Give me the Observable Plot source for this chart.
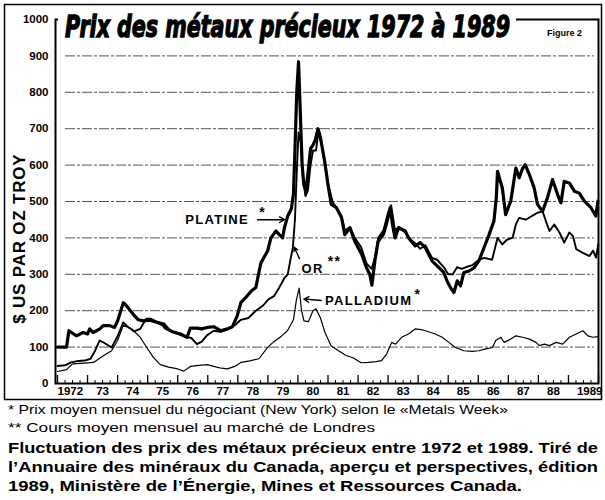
<!DOCTYPE html>
<html><head><meta charset="utf-8">
<script src="https://cdn.jsdelivr.net/npm/d3@7"></script>
<script src="https://cdn.jsdelivr.net/npm/@observablehq/plot@0.6"></script>
<style>
body{margin:0;background:#fff;}
#wrap{position:relative;width:605px;height:500px;overflow:hidden;font-family:"Liberation Sans",Arial,sans-serif;background:#fff;}
#wrap svg{display:block;}
.ov{position:absolute;left:0;top:0;}
</style></head><body><div id="wrap"></div>
<script>
// ---- data (decimal year, US$ per troy oz) ----
const platine = [[1972.00,100],[1972.30,100],[1972.38,145],[1972.50,138],[1972.63,131],[1972.85,140],[1973.00,136],[1973.07,150],[1973.18,140],[1973.30,145],[1973.41,150],[1973.52,159],[1973.74,159],[1973.90,154],[1974.00,172],[1974.19,222],[1974.30,213],[1974.52,190],[1974.69,175],[1974.86,172],[1975.08,174],[1975.30,168],[1975.52,161],[1975.58,153],[1975.80,143],[1976.09,136],[1976.31,127],[1976.42,152],[1976.64,152],[1976.80,150],[1976.98,154],[1977.20,156],[1977.43,145],[1977.65,150],[1977.82,156],[1977.98,186],[1978.10,222],[1978.25,235],[1978.45,254],[1978.60,264],[1978.71,309],[1978.77,332],[1978.99,364],[1979.10,400],[1979.27,419],[1979.38,409],[1979.49,400],[1979.55,428],[1979.66,460],[1979.78,480],[1979.85,520],[1979.90,640],[1979.96,800],[1980.02,884],[1980.08,740],[1980.14,600],[1980.20,545],[1980.27,530],[1980.35,590],[1980.42,645],[1980.50,655],[1980.58,670],[1980.67,700],[1980.75,675],[1980.89,610],[1981.00,546],[1981.11,492],[1981.28,483],[1981.45,456],[1981.56,409],[1981.73,428],[1981.89,391],[1982.12,355],[1982.28,318],[1982.39,300],[1982.46,270],[1982.56,337],[1982.67,391],[1982.84,409],[1982.95,440],[1983.07,483],[1983.14,440],[1983.23,400],[1983.35,428],[1983.57,419],[1983.68,400],[1983.90,378],[1984.07,387],[1984.24,373],[1984.46,337],[1984.63,323],[1984.85,305],[1984.96,282],[1985.07,264],[1985.19,250],[1985.30,282],[1985.41,268],[1985.52,305],[1985.69,309],[1985.86,318],[1986.02,337],[1986.19,373],[1986.36,409],[1986.52,446],[1986.60,510],[1986.64,583],[1986.72,560],[1986.80,537],[1986.91,464],[1987.08,501],[1987.25,592],[1987.36,565],[1987.47,590],[1987.56,601],[1987.70,574],[1987.86,537],[1987.97,492],[1988.14,473],[1988.30,510],[1988.47,560],[1988.64,519],[1988.75,496],[1988.86,555],[1989.03,551],[1989.20,528],[1989.36,523],[1989.53,501],[1989.75,483],[1989.91,460],[1989.98,501]];

const or = [[1972.00,48],[1972.25,50],[1972.45,58],[1972.70,62],[1972.90,63],[1973.10,68],[1973.25,90],[1973.40,118],[1973.55,112],[1973.80,99],[1974.00,130],[1974.19,168],[1974.35,155],[1974.55,143],[1974.75,150],[1974.95,178],[1975.10,178],[1975.30,170],[1975.55,165],[1975.75,145],[1975.95,138],[1976.20,130],[1976.45,125],[1976.64,108],[1976.80,115],[1976.98,133],[1977.20,145],[1977.43,142],[1977.65,148],[1977.90,160],[1978.10,175],[1978.35,180],[1978.60,200],[1978.85,215],[1979.00,230],[1979.20,240],[1979.38,264],[1979.55,290],[1979.66,300],[1979.75,340],[1979.83,373],[1979.90,450],[1979.97,600],[1980.02,690],[1980.10,660],[1980.17,560],[1980.25,515],[1980.33,530],[1980.42,600],[1980.50,640],[1980.60,640],[1980.68,690],[1980.78,660],[1980.90,600],[1981.00,550],[1981.15,500],[1981.30,480],[1981.45,460],[1981.56,420],[1981.73,430],[1981.89,400],[1982.10,375],[1982.28,330],[1982.45,315],[1982.56,345],[1982.67,400],[1982.84,420],[1983.00,470],[1983.10,490],[1983.23,420],[1983.35,430],[1983.57,415],[1983.75,395],[1983.90,385],[1984.07,370],[1984.24,380],[1984.46,345],[1984.63,340],[1984.85,320],[1985.00,300],[1985.15,300],[1985.30,320],[1985.45,315],[1985.60,320],[1985.80,325],[1986.02,340],[1986.20,345],[1986.46,340],[1986.64,400],[1986.80,382],[1986.95,395],[1987.14,400],[1987.25,437],[1987.36,455],[1987.58,450],[1987.78,460],[1987.97,469],[1988.14,473],[1988.25,446],[1988.37,419],[1988.53,437],[1988.70,415],[1988.86,387],[1989.03,415],[1989.15,405],[1989.26,369],[1989.48,359],[1989.70,350],[1989.82,365],[1989.92,346],[1989.99,382]];

const palladium = [[1972.00,33],[1972.30,38],[1972.50,54],[1972.90,56],[1973.20,58],[1973.50,75],[1973.80,90],[1974.00,118],[1974.19,160],[1974.47,150],[1974.75,127],[1974.97,99],[1975.19,72],[1975.42,52],[1975.70,45],[1976.00,40],[1976.20,34],[1976.42,47],[1976.70,50],[1976.98,52],[1977.20,47],[1977.45,42],[1977.65,40],[1977.90,47],[1978.10,58],[1978.40,62],[1978.70,68],[1979.00,100],[1979.20,115],[1979.45,130],[1979.65,145],[1979.85,175],[1979.95,230],[1980.04,262],[1980.12,200],[1980.20,172],[1980.35,170],[1980.50,200],[1980.60,205],[1980.75,180],[1980.90,140],[1981.10,104],[1981.35,90],[1981.60,77],[1981.85,70],[1982.10,57],[1982.35,58],[1982.60,60],[1982.78,63],[1982.95,81],[1983.12,113],[1983.25,108],[1983.45,127],[1983.68,136],[1983.90,150],[1984.10,148],[1984.24,145],[1984.57,136],[1984.80,127],[1985.02,113],[1985.24,99],[1985.52,90],[1985.80,88],[1986.02,90],[1986.25,95],[1986.47,99],[1986.58,118],[1986.75,127],[1986.86,113],[1987.08,122],[1987.25,131],[1987.48,127],[1987.70,122],[1987.92,113],[1988.03,104],[1988.20,108],[1988.37,104],[1988.59,113],[1988.81,108],[1989.03,127],[1989.26,136],[1989.48,145],[1989.65,131],[1989.81,127],[1989.99,129]];

const years = d3.range(1972, 1990);
const yearLabels = ["1972","73","74","75","76","77","78","79","80","81","82","83","84","85","86","87","88","1989"];
const yearTicks = d3.range(1972, 1991);
const quarterTicks = d3.range(1972, 1990, 0.25).filter(q => q % 1 !== 0);
const yTicks = d3.range(0, 1001, 100);
const gridValues = d3.range(100, 1000, 100);
const yTitle = "$ US PAR OZ TROY";
const title = "Prix des métaux précieux 1972 à 1989";
const figureLabel = "Figure 2";
const notesEnd = [{t: 1978.37, v: 450, text: "PLATINE"}];
const notesStart = [
  {t: 1980.12, v: 316, text: "OR"},
  {t: 1980.90, v: 226, text: "PALLADIUM"}
];
const stars = [
  {t: 1978.80, v: 470, text: "*"},
  {t: 1981.22, v: 334, text: "**"},
  {t: 1983.97, v: 244, text: "*"}
];
const arrows = [
  {t1: 1978.66, v1: 450, t2: 1979.55, v2: 450},
  {t1: 1980.05, v1: 343, t2: 1979.88, v2: 374},
  {t1: 1980.77, v1: 228, t2: 1980.20, v2: 232}
];
const footnotes = [
  "* Prix moyen mensuel du négociant (New York) selon le «Metals Week»",
  "** Cours moyen mensuel au marché de Londres"
];
const caption = [
  "Fluctuation des prix des métaux précieux entre 1972 et 1989. Tiré de",
  "l’Annuaire des minéraux du Canada, aperçu et perspectives, édition",
  "1989, Ministère de l’Énergie, Mines et Ressources Canada."
];

const X = d => d[0], Y = d => d[1];
const font = "'Liberation Sans', Arial, Helvetica, sans-serif";
const lab = (d, i) => yearLabels[i];

const chart = Plot.plot({
  width: 605, height: 400,
  marginLeft: 57, marginRight: 7, marginTop: 19, marginBottom: 17,
  x: {domain: [1972, 1990], axis: null},
  y: {domain: [0, 1000], axis: null},
  style: {fontFamily: font, background: "transparent", overflow: "visible", color: "#000"},
  marks: [
    Plot.ruleY(gridValues, {stroke: "#555", strokeWidth: 1, strokeDasharray: "10,2,3,2", insetLeft: 8, insetRight: 4}),
    Plot.ruleX(quarterTicks, {y1: 0, y2: 8, stroke: "#000", strokeWidth: 1}),
    Plot.ruleX(yearTicks, {y1: 0, y2: 22, stroke: "#000", strokeWidth: 1.3}),
    Plot.line(palladium, {x: X, y: Y, stroke: "#000", strokeWidth: 1.2, strokeLinejoin: "round"}),
    Plot.line(or, {x: X, y: Y, stroke: "#000", strokeWidth: 1.9, strokeLinejoin: "round"}),
    Plot.line(platine, {x: X, y: Y, stroke: "#000", strokeWidth: 3.2, strokeLinejoin: "round"}),
    Plot.frame({stroke: "#000", strokeWidth: 2, insetLeft: -2}),
    Plot.axisY({ticks: yTicks, tickSize: 0, tickPadding: 9, tickFormat: d => String(d), fontSize: 11.5, fontWeight: "bold", label: null}),
    // year labels centred in each year; first/last pinned to the frame edges
    Plot.text(years.slice(1, -1), {x: d => d + 0.5, frameAnchor: "bottom", dy: 11, text: (d, i) => yearLabels[i + 1], fontSize: 11.5, fontWeight: "bold"}),
    Plot.text(years.slice(0, 1), {x: d => d, frameAnchor: "bottom", dy: 11, text: lab, textAnchor: "start", fontSize: 11.5, fontWeight: "bold"}),
    Plot.text(years.slice(-1), {x: d => d + 1, frameAnchor: "bottom", dy: 11, dx: 4, text: () => yearLabels[yearLabels.length - 1], textAnchor: "end", fontSize: 11.5, fontWeight: "bold"}),
    Plot.text([yTitle], {x: [1972], y: [398], dx: -38, rotate: -90, fontSize: 17, fontWeight: "bold"}),
    Plot.text(notesEnd, {x: "t", y: "v", text: "text", textAnchor: "end", fontSize: 13, fontWeight: "bold"}),
    Plot.text(notesStart, {x: "t", y: "v", text: "text", textAnchor: "start", fontSize: 13, fontWeight: "bold"}),
    Plot.text(stars, {x: "t", y: "v", text: "text", fontSize: 14, fontWeight: "bold"}),
    Plot.arrow(arrows, {x1: "t1", y1: "v1", x2: "t2", y2: "v2", stroke: "#000", strokeWidth: 1.4, headLength: 6})
  ]
});

// letter spacing of the annotation labels and axis title (not a Plot option)
const spaced = new Set(["PLATINE", "OR", "PALLADIUM", "**"]);
d3.select(chart).selectAll("text").each(function() {
  const s = this.textContent;
  if (spaced.has(s)) this.style.letterSpacing = "1.3px";
  if (s === yTitle) this.style.letterSpacing = "0.8px";
});

const wrap = document.getElementById("wrap");
wrap.appendChild(chart);

// overlays: border, title, figure label
const ov = d3.select(wrap).append("svg").attr("class", "ov").attr("width", 605).attr("height", 500);
ov.append("rect").attr("x", 4.5).attr("y", 4.5).attr("width", 597).attr("height", 395).attr("fill", "none").attr("stroke", "#000").attr("stroke-width", 1.5);
ov.append("rect").attr("x", 58).attr("y", 10).attr("width", 458).attr("height", 32).attr("fill", "#fff");
ov.append("g").attr("transform", "translate(65,37) scale(1,1.41)")
  .append("text").attr("x", 0).attr("y", 0).attr("textLength", 445).attr("lengthAdjust", "spacingAndGlyphs")
  .attr("font-family", "'Liberation Sans Narrow', 'DejaVu Sans Condensed', sans-serif").attr("font-size", 22)
  .attr("font-weight", "bold").attr("font-style", "italic").attr("stroke", "#000").attr("stroke-width", 0.9).text(title);
ov.append("text").attr("x", 547).attr("y", 36).attr("textLength", 35).attr("lengthAdjust", "spacingAndGlyphs")
  .attr("font-family", font).attr("font-size", 9).attr("font-weight", "bold").text(figureLabel);

// footnotes & caption below the chart
const fn = d3.select(wrap).append("svg").attr("width", 605).attr("height", 100);
const fnY = [14, 32], fnLen = [500, 367];
footnotes.forEach((s, i) => fn.append("text").attr("x", 8).attr("y", fnY[i]).attr("textLength", fnLen[i]).attr("lengthAdjust", "spacingAndGlyphs")
  .attr("font-family", font).attr("font-size", 13).text(s));
const capY = [53, 72, 91], capLen = [590, 590, 514];
caption.forEach((s, i) => fn.append("text").attr("x", 8).attr("y", capY[i]).attr("textLength", capLen[i]).attr("lengthAdjust", "spacingAndGlyphs")
  .attr("font-family", font).attr("font-size", 15).attr("font-weight", "bold").text(s));
</script></body></html>
